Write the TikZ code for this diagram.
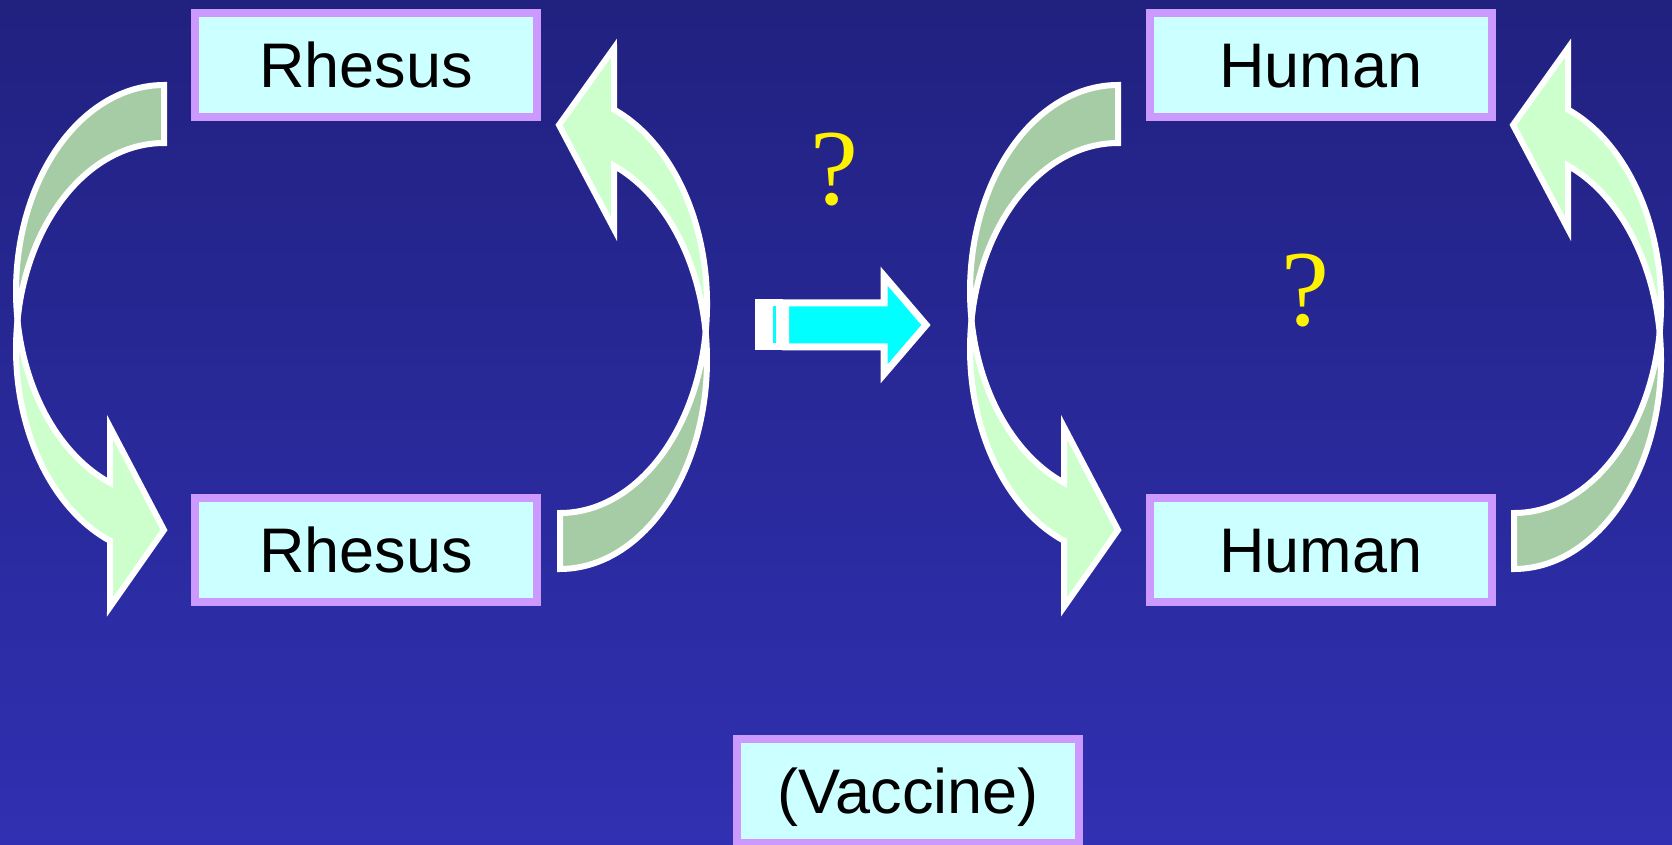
\documentclass[tikz,border=0pt]{standalone}
\usepackage{fontspec}
\setmainfont{Liberation Sans}
\newfontfamily\qfont{Liberation Serif}
\usetikzlibrary{positioning}
\definecolor{bgtop}{RGB}{33,33,128}
\definecolor{bgbot}{RGB}{48,48,178}
\definecolor{boxfill}{RGB}{204,255,255}
\definecolor{boxline}{RGB}{204,153,255}
\definecolor{bandback}{RGB}{166,204,166}
\definecolor{bandfront}{RGB}{204,255,204}
\definecolor{arrowfill}{RGB}{0,255,255}

\begin{document}
\begin{tikzpicture}[x=1pt,y=1pt]
\tikzstyle{box} = [draw=boxline, fill=boxfill, line width=8pt, outer sep=0pt, inner sep=0pt, minimum width=342pt, minimum height=104pt, text height=45pt, text depth=0pt, font=\fontsize{63}{70}\selectfont]
\tikzstyle{band} = [draw=white, line width=6pt]
\tikzstyle{ask} = [text=yellow, inner sep=0pt, font=\qfont\fontsize{108}{110}\selectfont]
\useasboundingbox (0,0) rectangle (1672,844);
\shade[top color=bgtop, bottom color=bgbot] (0,0) rectangle (1672,844);

% the two cycles
\foreach \dx in {0,954} {
\begin{scope}[xshift=\dx pt]
\filldraw[band, fill=bandback] (164,759) arc[start angle=90, end angle=188.1, x radius=148, y radius=206] arc[start angle=171.9, end angle=90, x radius=148, y radius=206] -- cycle;
\filldraw[band, fill=bandfront] (17.5,524) arc[start angle=171.9, end angle=248.6, x radius=148, y radius=206] -- (110,237) -- (164,314) -- (110,417) -- (110,361.2) arc[start angle=248.6, end angle=188.1, x radius=148, y radius=206] -- cycle;
\filldraw[band, fill=bandback] (560,275) arc[start angle=-90, end angle=7.7, x radius=147, y radius=209] arc[start angle=-7.7, end angle=-90, x radius=147, y radius=209] -- cycle;
\filldraw[band, fill=bandfront] (705.7,512) arc[start angle=-7.7, end angle=68.4, x radius=147, y radius=209] -- (614,796) -- (559,719) -- (614,615) -- (614,678.3) arc[start angle=68.4, end angle=7.7, x radius=147, y radius=209] -- cycle;
\end{scope}
}

\node[box] (rh1) at (366,779) {Rhesus};
\node[box] (rh2) [below=381pt of rh1] {Rhesus};
\node[box] (hu1) [right=613pt of rh1] {Human};
\node[box] (hu2) [below=381pt of hu1] {Human};
\node[box] (vac) at (908,53.5) {(Vaccine)};

\node[ask] (q1) at (834.5,674) {?};
\node[ask] (q2) at (1305,553) {?};

% block arrow
\filldraw[draw=white, fill=white, line width=7pt] (758.5,497) rectangle (765.5,541);
\filldraw[draw=white, fill=arrowfill, line width=7pt] (769.5,497) rectangle (779.5,541);
\filldraw[draw=white, fill=arrowfill, line width=7pt] (785.5,541) -- (884,541) -- (884,568) -- (926,519) -- (884,470) -- (884,497) -- (785.5,497) -- cycle;
\end{tikzpicture}
\end{document}
